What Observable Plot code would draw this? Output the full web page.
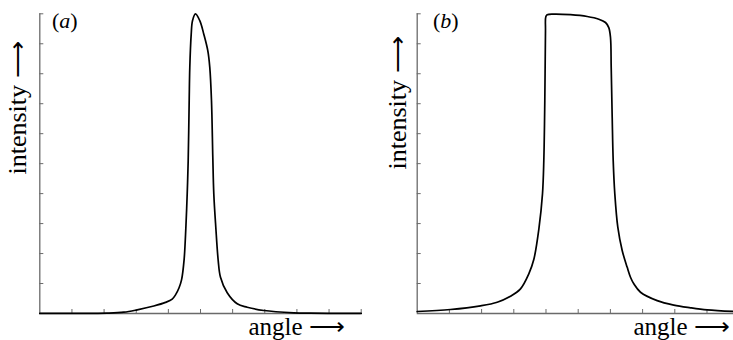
<!DOCTYPE html>
<html><head><meta charset="utf-8">
<script src="https://cdn.jsdelivr.net/npm/d3@7"></script>
<script src="https://cdn.jsdelivr.net/npm/@observablehq/plot@0.6"></script>
<style>
html,body{margin:0;padding:0;background:#fff;overflow:hidden}
#wrap{position:relative;width:733px;height:340px;overflow:hidden}
#wrap svg{position:absolute;top:0;max-width:none;}
</style></head><body><div id="wrap"></div>
<script>
// Panel (a): narrow peak
const angleA = [0, 1, 2.097, 2.614, 3.031, 3.547, 3.911, 4.12, 4.222, 4.33, 4.41, 4.49, 4.543, 4.586, 4.617, 4.648, 4.667, 4.711, 4.751, 4.844, 4.978, 5.103, 5.227, 5.289, 5.342, 5.383, 5.414, 5.476, 5.551, 5.622, 5.831, 6.142, 6.453, 6.97, 7.903, 8.423, 9.2, 10];
const intensityA = [0.003, 0.006, 0.013, 0.043, 0.123, 0.25, 0.37, 0.48, 0.62, 0.85, 1.12, 1.8, 2.83, 3.99, 5.1, 7.1, 8.21, 9.32, 9.77, 10, 9.77, 9.32, 8.77, 8.21, 7.1, 5.21, 3.99, 2.877, 1.767, 1.21, 0.69, 0.323, 0.21, 0.1, 0.023, 0.01, 0.004, 0.002];
// Panel (b): flat-topped profile
const angleB = [0, 1.034, 1.966, 2.484, 2.898, 3.208, 3.466, 3.621, 3.78, 3.891, 3.932, 3.963, 3.984, 3.994, 4.037, 4.242, 4.761, 5.28, 5.64, 5.848, 5.95, 6.003, 6.025, 6.056, 6.087, 6.137, 6.23, 6.366, 6.522, 6.624, 6.727, 6.935, 7.453, 7.969, 8.488, 9.006, 9.823];
const intensityB = [0.067, 0.133, 0.257, 0.377, 0.577, 0.823, 1.323, 1.8, 2.833, 3.99, 5.1, 7.1, 9.43, 9.9, 9.97, 9.99, 9.97, 9.91, 9.82, 9.71, 9.54, 9.21, 8.21, 6.54, 5.1, 3.99, 2.88, 2.1, 1.54, 1.21, 0.99, 0.71, 0.43, 0.28, 0.19, 0.12, 0.067];
const xTicksA = [1, 2, 3, 4, 5, 6, 7, 8, 9, 10];
const xTicksB = [1, 2, 3, 4, 5, 6, 7, 8, 9];
const yTicks = [1, 2, 3, 4, 5, 6, 7, 8, 9, 10];
const panelLetters = ["a", "b"];
const yLabel = "intensity \u27F6";
const xLabel = "angle \u27F6";

const SERIF = "'Liberation Serif', 'Times New Roman', serif";
const AXIS = "#6a6a6a";

function panel({angle, intensity, xTicks, xMax, left, width, marginLeft, marginRight, letter, letterX, yLabelDx, yLabelDy, xLabelDx}) {
  const data = angle.map((a, i) => ({angle: a, intensity: intensity[i]}));
  const svg = Plot.plot({
    width, height: 340,
    marginLeft, marginRight, marginTop: 13.3, marginBottom: 27,
    x: {domain: [0, xMax], axis: null},
    y: {domain: [0, 10], axis: null},
    style: {background: "transparent", overflow: "visible"},
    marks: [
      Plot.ruleY([0], {stroke: AXIS, strokeWidth: 1.3}),
      Plot.ruleX([0], {stroke: AXIS, strokeWidth: 1.3}),
      Plot.ruleX(xTicks, {x: d => d, y1: 0, y2: 0, insetTop: -4, stroke: AXIS, strokeWidth: 1}),
      Plot.ruleY(yTicks, {y: d => d, x1: 0, x2: 0, insetRight: -4, stroke: AXIS, strokeWidth: 1}),
      Plot.line(data, {x: "angle", y: "intensity", curve: "catmull-rom", stroke: "#000", strokeWidth: 1.7}),
      Plot.text([yLabel], {text: d => d, frameAnchor: "bottom-left", rotate: -90, textAnchor: "start", lineAnchor: "bottom", dx: yLabelDx, dy: yLabelDy, fontSize: 26, fontFamily: SERIF, fill: "#000"}),
      Plot.text([xLabel], {text: d => d, frameAnchor: "bottom-left", textAnchor: "start", lineAnchor: "bottom", dx: xLabelDx, dy: 21, fontSize: 25, fontFamily: SERIF, fill: "#000"})
    ]
  });
  svg.style.left = left + "px";
  const t = d3.select(svg).append("text")
    .attr("x", letterX).attr("y", 28).attr("text-anchor", "start")
    .attr("font-family", SERIF).attr("font-size", 22).attr("fill", "#000");
  t.append("tspan").text("(");
  t.append("tspan").attr("font-style", "italic").text(letter);
  t.append("tspan").text(")");
  document.getElementById("wrap").appendChild(svg);
}

panel({angle: angleA, intensity: intensityA, xTicks: xTicksA, xMax: 10, left: 0, width: 370,
  marginLeft: 39.3, marginRight: 9.3, letter: panelLetters[0], letterX: 52,
  yLabelDx: -14.3, yLabelDy: -139, xLabelDx: 208.7});
panel({angle: angleB, intensity: intensityB, xTicks: xTicksB, xMax: 9.823, left: 370, width: 363,
  marginLeft: 46.7, marginRight: 0, letter: panelLetters[1], letterX: 63,
  yLabelDx: -11.7, yLabelDy: -144, xLabelDx: 216.3});
</script></body></html>
